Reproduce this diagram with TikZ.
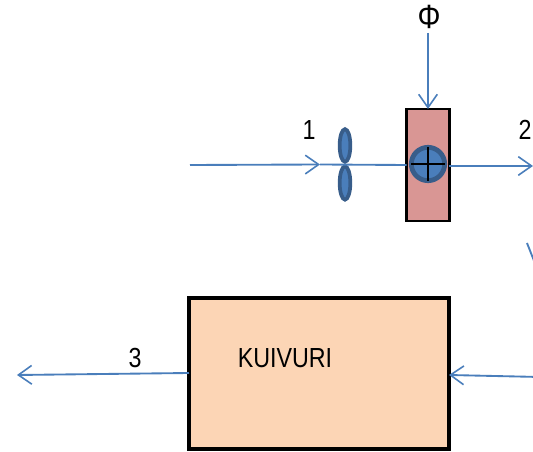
\documentclass[tikz,border=0pt]{standalone}
\usepackage{fontspec}
\usepackage{graphicx}
\setmainfont{Liberation Sans}
\usetikzlibrary{arrows.meta,shapes.geometric}
\definecolor{flow}{RGB}{74,126,187}
\definecolor{dkblue}{RGB}{56,93,138}
\definecolor{heat}{RGB}{217,150,148}
\definecolor{dryer}{RGB}{252,213,181}
\newcommand{\tallt}[1]{\scalebox{0.97}[1.15]{#1}}
\tikzset{
  x=0.75pt,y=-0.75pt,
  flowline/.style={draw=flow,line width=1.4pt},
  flowarrow/.style={flowline,-{Straight Barb[length=10pt,width=14pt,line width=1.2pt]}},
  blade/.style={ellipse,draw=dkblue,fill=flow,line width=2.8pt,minimum width=8pt,inner sep=0pt,outer sep=0pt},
  lbl/.style={inner sep=0pt,text=black,font=\fontsize{18pt}{20pt}\selectfont},
  plain/.style={inner sep=0pt,outer sep=0pt}
}
\begin{document}
\begin{tikzpicture}
\useasboundingbox (0,0) rectangle (533,452);
\clip (0,0) rectangle (533,452);
% boxes
\node[plain,draw=black,fill=heat,line width=2.2pt,minimum width=32pt,minimum height=84pt] (heater) at (428,165) {};
\node[plain,draw=black,fill=dryer,line width=3.2pt,minimum width=195pt,minimum height=113pt] (dryer) at (319,373.5) {};
% free ends
\coordinate (inS) at (190,165);
\coordinate (inM) at (320,164.5);
\coordinate (topS) at (428,33);
\coordinate (outE) at (533,166);
\coordinate (outL) at (17,375);
\coordinate (retS) at (540,377);
\coordinate (diagS) at (527,243);
\coordinate (diagE) at (540,276);
% fan
\node[blade,minimum height=24.5pt] (bladeA) at (345,145.5) {};
\node[blade,minimum height=25pt] (bladeB) at (345,183) {};
% connectors
\draw[flowarrow] (inS) -- (inM);
\draw[flowline] (inM) -- (heater.west);
\draw[flowarrow] (topS) -- (heater.north);
\draw[flowarrow] (heater.east |- 0,166) -- (outE);
\draw[flowarrow] (dryer.west |- 0,373) -- (outL);
\draw[flowarrow] (retS) -- (dryer.east |- 0,375);
\draw[flowline] (diagS) -- (diagE);
% valve
\node[circle,plain,draw=dkblue,fill=flow,line width=3.6pt,minimum size=25pt] (valve) at (428,164) {};
\draw[black,line width=1.4pt] (valve.center) ++(-17,0) -- ++(34,0);
\draw[black,line width=1.4pt] (valve.center) ++(0,-17) -- ++(0,34);
% labels
\node[lbl] (phi) at (429,17) {\scalebox{1.2}[1.4]{Φ}};
\node[lbl] (n1) at (309,130) {\tallt{1}};
\node[lbl] (n2) at (525,130) {\tallt{2}};
\node[lbl] (n3) at (135,358) {\tallt{3}};
\node[lbl] (kv) at (285,358) {\tallt{KUIVURI}};
\end{tikzpicture}
\end{document}
